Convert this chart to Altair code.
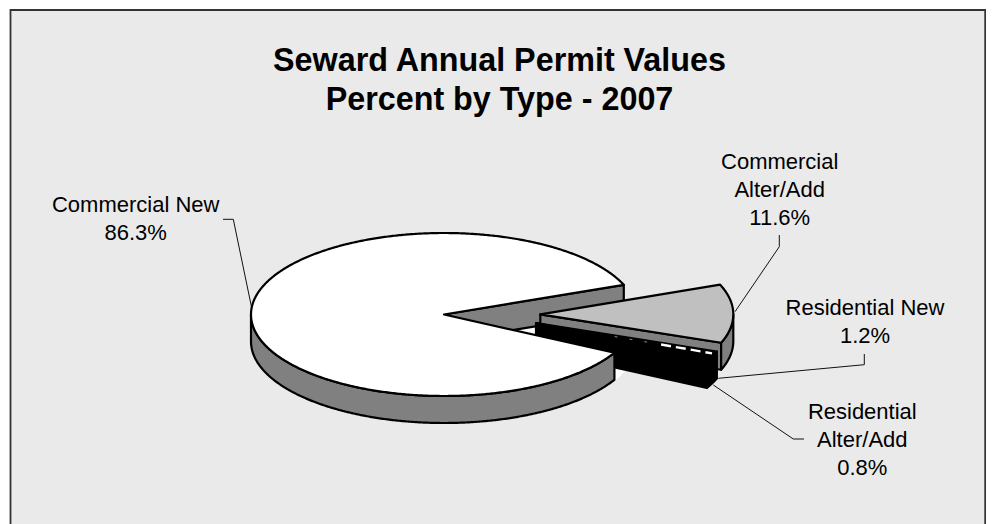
import math
import altair as alt

TITLE_LINES = ["Seward Annual Permit Values", "Percent by Type - 2007"]
CATEGORIES = [["Commercial New"], ["Commercial", "Alter/Add"], ["Residential New"], ["Residential", "Alter/Add"]]
PERCENTS = [86.3, 11.6, 1.2, 0.8]

RX, RY, DEPTH = 193.0, 81.5, 27.0
START = 28.0
BG, GRAY, LIGHT, WHITE, BLACK = "#EAEAEA", "#808080", "#C0C0C0", "#FFFFFF", "#000000"

# slice boundaries (ellipse parameter, degrees, clockwise on screen) from the percentages
angles = [START]
for p in PERCENTS:
    angles.append(angles[-1] + p * 3.6)
A0, A1, A2, A3, A4 = angles
A1N, A2N, A3N, A4N = A1 - 360, A2 - 360, A3 - 360, A4 - 360
CN_C = (444.0, 314.5)
CA_C = (540.3, 314.3)
RS_C = (536.0, 323.0)
RIGHT_EDGE = 985.2


def rim(c, t, dz=0.0):
    r = math.radians(t)
    return [c[0] + RX * math.cos(r), c[1] + RY * math.sin(r) + dz]


def arc(c, t0, t1, dz=0.0):
    n = max(2, int(abs(t1 - t0) * 2))
    return [rim(c, t0 + (t1 - t0) * i / n, dz) for i in range(n + 1)]


def poly(points, fill, stroke=BLACK):
    pts = points + [points[0]]
    return {"type": "Feature", "properties": {"fill": fill, "stroke": stroke},
            "geometry": {"type": "Polygon", "coordinates": [pts]}}


def sector(c, t0, t1, fill, dz=0.0, stroke=BLACK):
    return poly([[c[0], c[1] + dz]] + arc(c, t0, t1, dz), fill, stroke)


def outer_wall(c, t0, t1, fill):
    return poly(arc(c, t0, t1) + arc(c, t1, t0, DEPTH), fill)


def flat_wall(c, t, fill):
    return poly([[c[0], c[1]], rim(c, t), rim(c, t, DEPTH), [c[0], c[1] + DEPTH]], fill)


shapes = [
    # floor seen through the gap
    sector(CN_C, A1N, A0, WHITE, DEPTH, WHITE),
    # inner wall of the large slice
    flat_wall(CN_C, A1N, GRAY),
    # Commercial Alter/Add
    flat_wall(CA_C, A2N, GRAY),
    outer_wall(CA_C, 0, A2N, GRAY),
    sector(CA_C, A1N, A2N, LIGHT),
    # Residential slices
    outer_wall(RS_C, A2N, A4N, BLACK),
    flat_wall(RS_C, A4N, BLACK),
    sector(RS_C, A2N, A3N, BLACK),
    sector(RS_C, A3N, A4N, BLACK),
    # Commercial New
    outer_wall(CN_C, A0, 180, GRAY),
    sector(CN_C, A0, A1, WHITE),
]


def line(points):
    return {"type": "Feature", "properties": {},
            "geometry": {"type": "LineString", "coordinates": points}}


def project(ch):
    return ch.project(type="identity", scale=1, translate=[-8, -8])


def lines_layer(points, color, width, dash=None):
    kw = {"strokeDash": dash} if dash else {}
    return project(alt.Chart(alt.Data(values=[line(points)])).mark_geoshape(
        filled=False, stroke=color, strokeWidth=width, **kw
    ))


def text_layer(s, x, y, size=22, bold=False):
    return alt.Chart(alt.Data(values=[{"t": s}])).mark_text(
        font="Liberation Sans", fontSize=size, fontWeight="bold" if bold else "normal",
        align="center", baseline="alphabetic", color="#000000"
    ).encode(text="t:N", x=alt.value(x - 8), y=alt.value(y - 8))


background = project(alt.Chart(alt.Data(values=[poly([[10.5, 10], [RIGHT_EDGE, 10], [RIGHT_EDGE, 524], [10.5, 524]], BG, BG)])).mark_geoshape(
    fill=BG, strokeWidth=0
))
frame = lines_layer([[10.5, 524], [10.5, 10], [RIGHT_EDGE, 10], [RIGHT_EDGE, 524]], "#333333", 1.8)

pie = project(alt.Chart(alt.Data(values=shapes)).mark_geoshape(strokeWidth=2.2, strokeJoin="round").encode(
    fill=alt.Color("properties.fill:N", scale=None),
    stroke=alt.Color("properties.stroke:N", scale=None),
))

# speckled pattern of the thin Residential New slice
mid = (A2N + A3N) / 2 - 0.4
tip = rim(RS_C, mid)


def along(f):
    return [RS_C[0] + (tip[0] - RS_C[0]) * f, RS_C[1] + (tip[1] - RS_C[1]) * f]


dash_big = lines_layer([along(0.70), along(0.985)], WHITE, 2.4, [10, 5])
dash_small = lines_layer([along(0.44), along(0.66)], "#8A8A8A", 1.0, [3, 12])

leaders = [
    lines_layer([[223, 219.3], [233.3, 219.3], [251.5, 307]], "#111111", 1),
    lines_layer([[779.3, 235], [779.3, 246.7], [735, 311.7]], "#111111", 1),
    lines_layer([[864.3, 354], [864.3, 364.7], [718.3, 378.3]], "#111111", 1),
    lines_layer([[804, 439], [793.3, 439], [713.3, 385]], "#111111", 1),
]

texts = [
    text_layer(TITLE_LINES[0], 499.5, 71, 32.3, True),
    text_layer(TITLE_LINES[1], 499.5, 110, 32.3, True),
    text_layer(CATEGORIES[0][0], 135.7, 211.7),
    text_layer(f"{PERCENTS[0]}%", 135.7, 240),
    text_layer(CATEGORIES[1][0], 779.7, 168.5),
    text_layer(CATEGORIES[1][1], 779.7, 196.5),
    text_layer(f"{PERCENTS[1]}%", 779.7, 224.5),
    text_layer(CATEGORIES[2][0], 865, 314.5),
    text_layer(f"{PERCENTS[2]}%", 865, 342.5),
    text_layer(CATEGORIES[3][0], 862.3, 418.7),
    text_layer(CATEGORIES[3][1], 862.3, 446.7),
    text_layer(f"{PERCENTS[3]}%", 862.3, 475),
]

chart = alt.layer(background, frame, pie, dash_big, dash_small, *leaders, *texts).properties(
    width=978, height=516, padding=0, autosize=alt.AutoSizeParams(type="none"), background="#FFFFFF"
).configure_view(stroke=None)

chart.save("out.html", embed_options={"renderer": "svg", "actions": False})
